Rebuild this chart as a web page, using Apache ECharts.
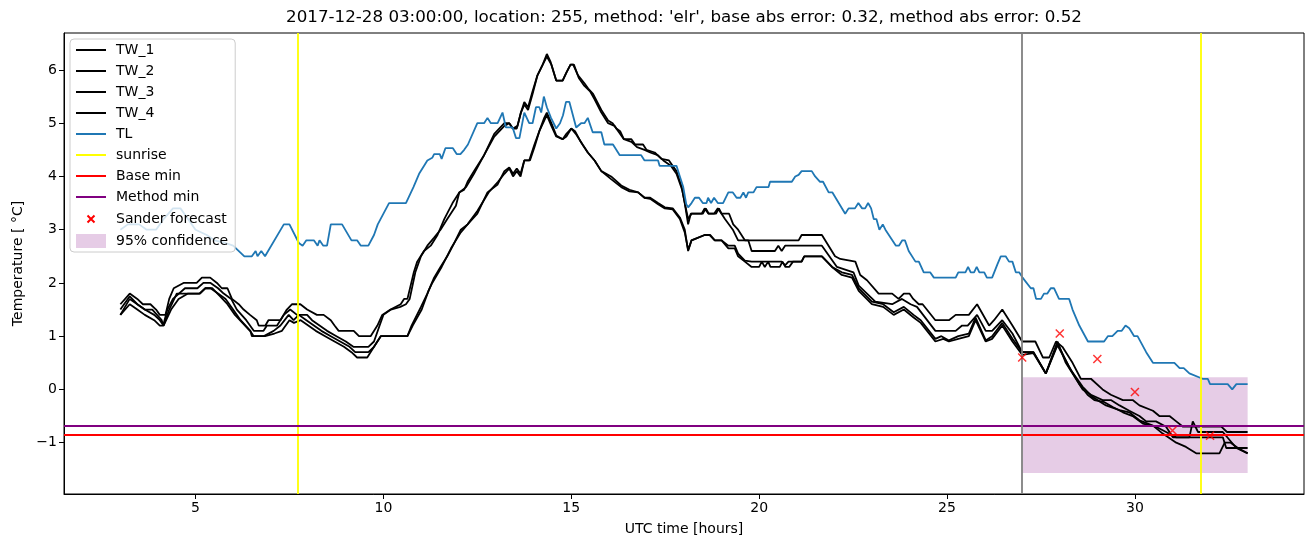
<!DOCTYPE html>
<html><head><meta charset="utf-8">
<script src="https://cdn.jsdelivr.net/npm/echarts@6/dist/echarts.min.js"></script>
<style>html,body{margin:0;padding:0;background:#fff}#c{width:1313px;height:547px}</style>
</head><body><div id="c"></div>
<script>
const TITLE = "2017-12-28 03:00:00, location: 255, method: 'elr', base abs error: 0.32, method abs error: 0.52";
const xTicks = [5, 10, 15, 20, 25, 30];
const yTicks = [-1, 0, 1, 2, 3, 4, 5, 6];

const TW_1 = [[3.0,1.6],[3.25,1.8],[3.45,1.7],[3.6,1.6],[3.8,1.6],[3.95,1.5],[4.05,1.4],[4.2,1.4],[4.3,1.7],[4.42,1.9],[4.68,2.0],[5.03,2.0],[5.17,2.1],[5.39,2.1],[5.57,2.0],[5.7,1.9],[5.85,1.9],[5.97,1.7],[6.15,1.6],[6.28,1.5],[6.45,1.4],[6.63,1.3],[6.68,1.2],[6.86,1.2],[6.94,1.3],[7.26,1.3],[7.43,1.5],[7.57,1.6],[7.79,1.6],[7.97,1.5],[8.23,1.4],[8.41,1.4],[8.6,1.3],[8.7,1.2],[8.81,1.1],[9.21,1.1],[9.35,1.0],[9.66,1.0],[9.84,1.2],[9.97,1.4],[10.19,1.5],[10.46,1.6],[10.55,1.7],[10.64,1.7],[10.81,2.2],[10.9,2.4],[11.08,2.6],[11.26,2.7],[11.44,2.9],[11.62,3.2],[11.84,3.5],[12.02,3.7],[12.15,3.75],[12.24,3.9],[12.41,4.1],[12.68,4.4],[12.95,4.8],[13.22,5.0],[13.35,5.0],[13.44,4.9],[13.55,4.9],[13.66,5.2],[13.75,5.4],[13.85,5.3],[13.97,5.6],[14.1,5.9],[14.24,6.1],[14.35,6.3],[14.45,6.15],[14.6,5.8],[14.77,5.8],[14.87,5.95],[14.98,6.1],[15.05,6.1],[15.18,5.9],[15.35,5.75],[15.45,5.65],[15.58,5.55],[15.8,5.25],[15.98,5.05],[16.1,5.0],[16.2,4.9],[16.3,4.85],[16.4,4.7],[16.6,4.7],[16.7,4.6],[16.91,4.6],[17.0,4.5],[17.22,4.45],[17.4,4.33],[17.6,4.3],[17.67,4.23],[17.8,4.1],[17.94,3.8],[18.02,3.5],[18.11,3.1],[18.18,3.3],[18.47,3.3],[18.55,3.4],[18.65,3.3],[18.8,3.3],[18.9,3.4],[19.0,3.3],[19.2,3.3],[19.31,3.1],[19.44,3.0],[19.62,2.8],[21.05,2.8],[21.13,2.9],[21.67,2.9],[22.02,2.5],[22.16,2.45],[22.56,2.4],[22.69,2.15],[22.87,2.05],[23.18,1.8],[23.54,1.8],[23.71,1.7],[23.85,1.8],[24.0,1.8],[24.1,1.7],[24.25,1.6],[24.35,1.6],[24.69,1.3],[25.05,1.3],[25.23,1.4],[25.58,1.4],[25.8,1.6],[26.12,1.2],[26.25,1.3],[26.47,1.5],[26.74,1.2],[27.0,0.9],[27.35,0.9],[27.55,0.6],[27.72,0.6],[27.9,0.9],[28.07,0.8],[28.34,0.5],[28.56,0.2],[28.83,0.2],[29.14,0.0],[29.36,-0.1],[29.68,-0.2],[29.94,-0.2],[30.12,-0.3],[30.48,-0.4],[30.65,-0.5],[30.92,-0.5],[31.1,-0.6],[31.28,-0.7],[32.3,-0.7],[32.45,-0.8],[33.0,-0.8]];

const TW_2 = [[3.0,1.5],[3.25,1.75],[3.45,1.6],[3.65,1.5],[3.85,1.5],[4.1,1.3],[4.14,1.2],[4.25,1.5],[4.4,1.7],[4.72,1.9],[5.05,1.9],[5.21,2.0],[5.4,2.0],[5.6,1.9],[5.75,1.8],[5.95,1.7],[6.1,1.5],[6.35,1.3],[6.55,1.1],[6.81,1.1],[6.9,1.2],[7.17,1.2],[7.35,1.4],[7.52,1.5],[7.7,1.4],[7.97,1.4],[8.1,1.3],[8.3,1.2],[8.5,1.1],[8.75,1.0],[9.0,0.9],[9.2,0.8],[9.6,0.8],[9.75,0.9],[9.9,1.2],[10.0,1.4],[10.2,1.5],[10.45,1.55],[10.6,1.6],[10.7,1.7],[10.85,2.2],[11.0,2.5],[11.17,2.7],[11.35,2.85],[11.52,3.0],[11.7,3.2],[11.93,3.45],[12.02,3.7],[12.2,3.8],[12.41,4.05],[12.68,4.4],[12.95,4.75],[13.22,4.95],[13.35,5.0],[13.45,4.9],[13.57,4.95],[13.66,5.2],[13.75,5.35],[13.85,5.25],[13.97,5.55],[14.1,5.9],[14.24,6.1],[14.35,6.25],[14.47,6.1],[14.6,5.8],[14.77,5.8],[14.87,5.95],[14.98,6.1],[15.07,6.1],[15.2,5.85],[15.35,5.7],[15.5,5.6],[15.62,5.45],[15.8,5.2],[15.98,5.0],[16.15,4.95],[16.25,4.85],[16.4,4.7],[16.6,4.65],[16.75,4.55],[16.95,4.5],[17.1,4.45],[17.3,4.4],[17.45,4.3],[17.65,4.2],[17.8,4.05],[17.95,3.75],[18.05,3.4],[18.11,3.2],[18.2,3.3],[18.5,3.3],[18.58,3.4],[18.66,3.3],[18.85,3.3],[18.93,3.4],[19.0,3.3],[19.09,3.2],[19.3,3.0],[19.44,2.8],[19.71,2.8],[19.8,2.6],[20.42,2.6],[20.51,2.7],[20.6,2.6],[20.69,2.7],[21.67,2.7],[22.07,2.3],[22.51,2.2],[22.65,1.95],[23.09,1.65],[23.54,1.6],[23.8,1.7],[24.03,1.6],[24.2,1.55],[24.69,1.1],[25.23,1.1],[25.4,1.2],[25.55,1.2],[25.8,1.4],[26.03,1.1],[26.2,1.1],[26.47,1.3],[26.74,1.05],[27.0,0.7],[27.3,0.7],[27.63,0.3],[27.94,0.9],[28.16,0.5],[28.43,0.2],[28.61,0.0],[28.83,-0.1],[29.14,-0.2],[29.36,-0.2],[29.59,-0.3],[29.85,-0.4],[30.12,-0.5],[30.3,-0.6],[30.56,-0.6],[30.83,-0.7],[31.01,-0.9],[31.45,-0.9],[31.54,-0.6],[31.68,-0.8],[32.34,-0.8],[32.7,-1.1],[33.0,-1.2]];

const TW_3 = [[3.0,1.4],[3.25,1.7],[3.45,1.6],[3.65,1.5],[3.9,1.4],[4.05,1.3],[4.15,1.2],[4.3,1.5],[4.5,1.8],[4.77,1.8],[5.12,1.8],[5.26,1.9],[5.4,1.9],[5.6,1.8],[5.8,1.7],[6.0,1.5],[6.2,1.3],[6.46,1.1],[6.5,1.0],[6.81,1.0],[7.08,1.1],[7.26,1.2],[7.48,1.4],[7.61,1.3],[7.75,1.4],[7.95,1.3],[8.15,1.2],[8.35,1.1],[8.6,1.0],[8.85,0.9],[9.1,0.8],[9.25,0.7],[9.6,0.7],[9.75,0.8],[9.93,1.0],[10.64,1.0],[10.75,1.2],[11.0,1.55],[11.17,1.8],[11.35,2.1],[11.52,2.3],[11.7,2.5],[11.85,2.7],[12.06,3.0],[12.24,3.1],[12.5,3.3],[12.77,3.7],[13.04,3.85],[13.22,4.1],[13.35,4.17],[13.45,4.05],[13.55,4.15],[13.65,4.05],[13.75,4.3],[13.88,4.3],[14.02,4.6],[14.15,4.85],[14.28,5.1],[14.35,5.2],[14.47,5.0],[14.6,4.77],[14.77,4.7],[14.87,4.8],[15.0,4.9],[15.1,4.85],[15.26,4.64],[15.44,4.45],[15.62,4.3],[15.8,4.1],[16.06,4.0],[16.33,3.83],[16.55,3.75],[16.78,3.7],[16.95,3.6],[17.1,3.6],[17.31,3.5],[17.49,3.42],[17.7,3.4],[17.89,3.23],[18.02,3.0],[18.11,2.6],[18.2,2.8],[18.55,2.9],[18.7,2.9],[18.82,2.8],[19.0,2.8],[19.18,2.7],[19.35,2.7],[19.44,2.55],[19.62,2.42],[19.8,2.4],[20.0,2.4],[20.6,2.4],[20.69,2.33],[20.78,2.4],[21.13,2.4],[21.2,2.5],[21.67,2.5],[21.94,2.3],[22.2,2.2],[22.47,2.15],[22.65,1.9],[23.0,1.65],[23.3,1.6],[23.58,1.45],[23.85,1.55],[24.11,1.4],[24.3,1.3],[24.69,0.95],[24.85,1.0],[25.05,0.92],[25.3,1.0],[25.58,1.05],[25.76,1.35],[26.03,0.92],[26.2,1.0],[26.47,1.25],[26.74,0.95],[27.0,0.7],[27.3,0.7],[27.63,0.3],[27.94,0.86],[28.25,0.42],[28.52,0.1],[28.74,-0.1],[28.92,-0.2],[29.19,-0.24],[29.41,-0.33],[29.68,-0.43],[29.94,-0.5],[30.21,-0.64],[30.56,-0.7],[30.83,-0.8],[31.1,-0.9],[32.34,-0.9],[32.43,-1.1],[33.0,-1.1]];

const TW_4 = [[3.0,1.4],[3.25,1.6],[3.45,1.5],[3.65,1.4],[3.9,1.3],[4.05,1.2],[4.15,1.2],[4.35,1.5],[4.55,1.7],[4.8,1.8],[5.1,1.8],[5.26,1.9],[5.45,1.9],[5.65,1.75],[5.85,1.6],[6.05,1.4],[6.25,1.25],[6.45,1.1],[6.55,1.0],[6.85,1.0],[7.1,1.05],[7.3,1.1],[7.5,1.3],[7.62,1.25],[7.8,1.3],[8.0,1.2],[8.2,1.1],[8.45,1.0],[8.7,0.9],[8.95,0.8],[9.15,0.7],[9.3,0.6],[9.57,0.6],[9.75,0.8],[9.93,1.0],[10.64,1.0],[10.78,1.2],[11.02,1.5],[11.2,1.85],[11.3,2.0],[11.55,2.3],[11.8,2.65],[12.06,2.95],[12.24,3.1],[12.5,3.35],[12.8,3.7],[13.05,3.9],[13.22,4.05],[13.35,4.15],[13.45,4.0],[13.55,4.1],[13.65,4.0],[13.75,4.3],[13.9,4.3],[14.02,4.55],[14.15,4.85],[14.28,5.05],[14.35,5.15],[14.47,4.95],[14.6,4.75],[14.77,4.7],[14.87,4.75],[15.0,4.9],[15.12,4.8],[15.3,4.6],[15.44,4.45],[15.62,4.3],[15.8,4.1],[16.06,3.95],[16.33,3.8],[16.55,3.72],[16.78,3.7],[16.95,3.6],[17.1,3.58],[17.31,3.48],[17.49,3.4],[17.7,3.38],[17.89,3.2],[18.02,2.95],[18.11,2.62],[18.2,2.8],[18.55,2.9],[18.68,2.9],[18.82,2.8],[19.0,2.8],[19.18,2.65],[19.35,2.65],[19.44,2.5],[19.62,2.4],[19.8,2.3],[20.0,2.3],[20.07,2.4],[20.15,2.3],[20.24,2.4],[20.3,2.3],[20.55,2.3],[20.62,2.4],[20.7,2.3],[20.8,2.3],[20.9,2.4],[21.13,2.4],[21.2,2.5],[21.67,2.5],[21.94,2.3],[22.2,2.15],[22.47,2.1],[22.65,1.85],[23.0,1.6],[23.3,1.55],[23.58,1.4],[23.85,1.5],[24.11,1.35],[24.3,1.25],[24.69,0.9],[24.9,0.95],[25.05,0.9],[25.3,0.95],[25.58,1.0],[25.76,1.3],[26.03,0.9],[26.2,0.95],[26.47,1.2],[26.74,0.9],[27.0,0.65],[27.3,0.68],[27.63,0.3],[27.94,0.83],[28.3,0.36],[28.61,0.05],[28.87,-0.14],[29.23,-0.3],[29.59,-0.39],[29.85,-0.43],[30.12,-0.58],[30.48,-0.68],[30.74,-0.83],[31.1,-1.0],[31.36,-1.08],[31.63,-1.2],[32.25,-1.2],[32.39,-1.0],[32.55,-1.0],[32.74,-1.1],[33.0,-1.2]];

const TL = [[3.0,3.0],[3.2,3.1],[3.5,3.1],[3.7,3.0],[3.95,3.0],[4.15,3.2],[4.4,3.4],[4.6,3.4],[4.8,3.2],[5.0,3.0],[5.3,2.9],[5.5,2.8],[5.8,2.75],[6.0,2.7],[6.3,2.5],[6.5,2.5],[6.6,2.6],[6.65,2.5],[6.75,2.6],[6.85,2.5],[7.35,3.1],[7.5,3.1],[7.75,2.75],[7.85,2.7],[7.95,2.8],[8.15,2.8],[8.25,2.7],[8.3,2.8],[8.4,2.7],[8.5,2.7],[8.6,3.1],[8.9,3.1],[9.15,2.8],[9.3,2.8],[9.4,2.7],[9.6,2.7],[9.75,2.9],[9.85,3.1],[10.15,3.5],[10.6,3.5],[10.8,3.8],[10.95,4.05],[11.17,4.3],[11.3,4.35],[11.35,4.42],[11.5,4.42],[11.55,4.33],[11.65,4.53],[11.85,4.53],[11.95,4.42],[12.05,4.42],[12.15,4.5],[12.25,4.6],[12.5,5.0],[12.68,5.0],[12.77,5.1],[12.86,5.0],[13.04,5.0],[13.17,5.2],[13.26,4.92],[13.44,4.92],[13.53,4.72],[13.62,4.72],[13.75,5.2],[13.88,5.0],[13.97,5.0],[14.06,5.3],[14.15,5.3],[14.2,5.2],[14.27,5.5],[14.35,5.3],[14.46,5.1],[14.6,4.9],[14.7,5.0],[14.78,5.15],[14.86,5.4],[14.95,5.4],[15.13,4.92],[15.26,5.0],[15.35,5.0],[15.44,5.1],[15.57,4.83],[15.8,4.83],[15.88,4.6],[16.11,4.6],[16.29,4.4],[16.86,4.4],[16.95,4.3],[17.31,4.3],[17.35,4.2],[17.8,4.2],[17.89,4.0],[17.98,3.8],[18.06,3.48],[18.11,3.42],[18.2,3.5],[18.29,3.6],[18.4,3.6],[18.5,3.5],[18.6,3.5],[18.64,3.6],[18.72,3.5],[18.8,3.6],[18.9,3.5],[19.04,3.5],[19.18,3.7],[19.3,3.7],[19.4,3.6],[19.5,3.6],[19.58,3.7],[19.65,3.6],[19.71,3.7],[19.85,3.7],[19.93,3.8],[20.25,3.8],[20.29,3.9],[20.87,3.9],[20.96,4.0],[21.05,4.03],[21.13,4.1],[21.4,4.1],[21.49,4.0],[21.62,3.9],[21.7,3.9],[21.85,3.7],[21.95,3.7],[22.29,3.3],[22.38,3.4],[22.55,3.4],[22.64,3.5],[22.74,3.4],[22.82,3.4],[22.9,3.5],[22.98,3.4],[23.05,3.2],[23.12,3.2],[23.2,3.0],[23.29,3.1],[23.36,3.0],[23.64,2.7],[23.72,2.7],[23.81,2.8],[23.88,2.8],[23.98,2.6],[24.16,2.4],[24.25,2.4],[24.38,2.2],[24.55,2.2],[24.65,2.1],[25.23,2.1],[25.3,2.2],[25.49,2.2],[25.56,2.3],[25.63,2.2],[25.72,2.2],[25.79,2.3],[25.86,2.2],[25.99,2.2],[26.06,2.1],[26.2,2.1],[26.34,2.35],[26.43,2.5],[26.56,2.5],[26.65,2.4],[26.74,2.4],[26.83,2.2],[26.92,2.2],[27.01,2.1],[27.23,1.9],[27.3,1.9],[27.37,1.7],[27.5,1.7],[27.58,1.8],[27.67,1.8],[27.76,1.9],[27.85,1.9],[27.98,1.7],[28.25,1.7],[28.34,1.5],[28.52,1.2],[28.75,0.9],[29.18,0.9],[29.28,1.0],[29.4,1.0],[29.54,1.1],[29.65,1.1],[29.75,1.2],[29.85,1.15],[29.98,1.0],[30.07,1.0],[30.3,0.7],[30.48,0.5],[31.05,0.5],[31.19,0.4],[31.3,0.4],[31.45,0.3],[31.8,0.2],[31.94,0.2],[32.0,0.1],[32.47,0.1],[32.59,0.0],[32.7,0.1],[33.0,0.1]];

const sunriseX = [7.72, 31.75];
const baseMin = -0.86;
const methodMin = -0.68;
const forecastX = [27, 28, 29, 30, 31, 32];
const forecastV = [0.6, 1.05, 0.57, -0.05, -0.77, -0.87];
const nowX = 27;
const confX = [27, 33];
const confY = [-1.57, 0.23];

const FONT = 'DejaVu Sans';
const chart = echarts.init(document.getElementById('c'), null, {renderer: 'canvas'});
const lw = 1.8;
const blackLine = (name, data) => ({
  name, type: 'line', data, symbol: 'none', z: 3,
  lineStyle: {color: '#000', width: lw}, itemStyle: {color: '#000'}
});
// x-shaped marker, padded box so the legend icon is drawn small
const xMark = 'path://M-5,-5L-5,-5M15,15L15,15M0,0L10,10M10,0L0,10';

const option = {
  animation: false,
  backgroundColor: '#fff',
  graphic: [{
    type: 'text', x: 684, y: 18, z: 10,
    style: {text: TITLE, fontFamily: FONT, fontSize: 16.7, fill: '#000', textAlign: 'center', textVerticalAlign: 'middle'}
  }],
  grid: {left: 64, right: 9, top: 33, bottom: 53, show: true, borderColor: '#000', borderWidth: 1, containLabel: false},
  xAxis: {
    type: 'value', min: 1.5, max: 34.5,
    name: 'UTC time [hours]', nameLocation: 'middle', nameGap: 28,
    nameTextStyle: {fontFamily: FONT, fontSize: 14, color: '#000'},
    axisLine: {show: true, onZero: false, lineStyle: {color: '#000', width: 1}},
    axisTick: {show: true, customValues: xTicks, length: 5, inside: false, lineStyle: {color: '#000'}},
    axisLabel: {customValues: xTicks, fontFamily: FONT, fontSize: 14, color: '#000', margin: 7},
    splitLine: {show: false}
  },
  yAxis: {
    type: 'value', min: -1.964, max: 6.694,
    name: 'Temperature [ °C]', nameLocation: 'middle', nameGap: 38, nameRotate: 90,
    nameTextStyle: {fontFamily: FONT, fontSize: 14, color: '#000'},
    axisLine: {show: true, onZero: false, lineStyle: {color: '#000', width: 1}},
    axisTick: {show: true, customValues: yTicks, length: 5, inside: false, lineStyle: {color: '#000'}},
    axisLabel: {customValues: yTicks, fontFamily: FONT, fontSize: 14, color: '#000', margin: 7,
      formatter: v => (v < 0 ? '\u2212' + Math.abs(v) : String(v))},
    splitLine: {show: false}
  },
  legend: {
    orient: 'vertical', left: 70, top: 39,
    selectedMode: false,
    itemWidth: 30, itemHeight: 14, itemGap: 7,
    padding: [4, 7, 4, 5],
    backgroundColor: 'rgba(255,255,255,0.8)', borderColor: '#cccccc', borderWidth: 1, borderRadius: 4,
    itemStyle: {opacity: 0},
    textStyle: {fontFamily: FONT, fontSize: 14, color: '#000', padding: [0, 0, 0, 5]},
    data: [
      {name: 'TW_1'}, {name: 'TW_2'}, {name: 'TW_3'}, {name: 'TW_4'}, {name: 'TL'},
      {name: 'sunrise'}, {name: 'Base min'}, {name: 'Method min'},
      {name: 'Sander forecast', itemStyle: {opacity: 1}},
      {name: '95% confidence', icon: 'rect', itemStyle: {color: 'rgba(128,0,128,0.2)', opacity: 1}}
    ]
  },
  series: [
    blackLine('TW_1', TW_1),
    blackLine('TW_2', TW_2),
    blackLine('TW_3', TW_3),
    blackLine('TW_4', TW_4),
    {name: 'TL', type: 'line', data: TL, symbol: 'none', z: 3,
      lineStyle: {color: '#1f77b4', width: lw}, itemStyle: {color: '#1f77b4'}},
    {name: 'sunrise', type: 'line', data: [], symbol: 'none',
      lineStyle: {color: '#ffff00', width: lw}, itemStyle: {color: '#ffff00'},
      markLine: {silent: true, symbol: ['none', 'none'], label: {show: false}, z: 4,
        lineStyle: {color: '#ffff00', width: lw, type: 'solid'},
        data: sunriseX.map(x => ({xAxis: x}))}},
    {name: 'Base min', type: 'line', data: [], symbol: 'none',
      lineStyle: {color: '#ff0000', width: lw}, itemStyle: {color: '#ff0000'},
      markLine: {silent: true, symbol: ['none', 'none'], label: {show: false}, z: 4,
        lineStyle: {color: '#ff0000', width: lw, type: 'solid'},
        data: [{yAxis: baseMin}]}},
    {name: 'Method min', type: 'line', data: [], symbol: 'none',
      lineStyle: {color: '#800080', width: lw}, itemStyle: {color: '#800080'},
      markLine: {silent: true, symbol: ['none', 'none'], label: {show: false}, z: 4,
        lineStyle: {color: '#800080', width: lw, type: 'solid'},
        data: [{yAxis: methodMin}]}},
    {name: 'Sander forecast', type: 'scatter', z: 5,
      data: forecastX.map((x, i) => [x, forecastV[i]]),
      symbol: xMark, symbolSize: 16, symbolKeepAspect: true,
      itemStyle: {color: '#ff0000', borderColor: '#ff0000', borderWidth: 1.5}},
    {name: '95% confidence', type: 'line', data: [], symbol: 'none',
      lineStyle: {color: 'rgba(128,0,128,0.2)'}, itemStyle: {color: 'rgba(128,0,128,0.2)'},
      markArea: {silent: true, itemStyle: {color: 'rgba(128,0,128,0.2)'},
        data: [[{xAxis: confX[0], yAxis: confY[1]}, {xAxis: confX[1], yAxis: confY[0]}]]}},
    {name: 'now', type: 'line', data: [], symbol: 'none',
      markLine: {silent: true, symbol: ['none', 'none'], label: {show: false}, z: 4,
        lineStyle: {color: '#808080', width: lw, type: 'solid'},
        data: [{xAxis: nowX}]}}
  ]
};
chart.setOption(option);
</script>
</body></html>
